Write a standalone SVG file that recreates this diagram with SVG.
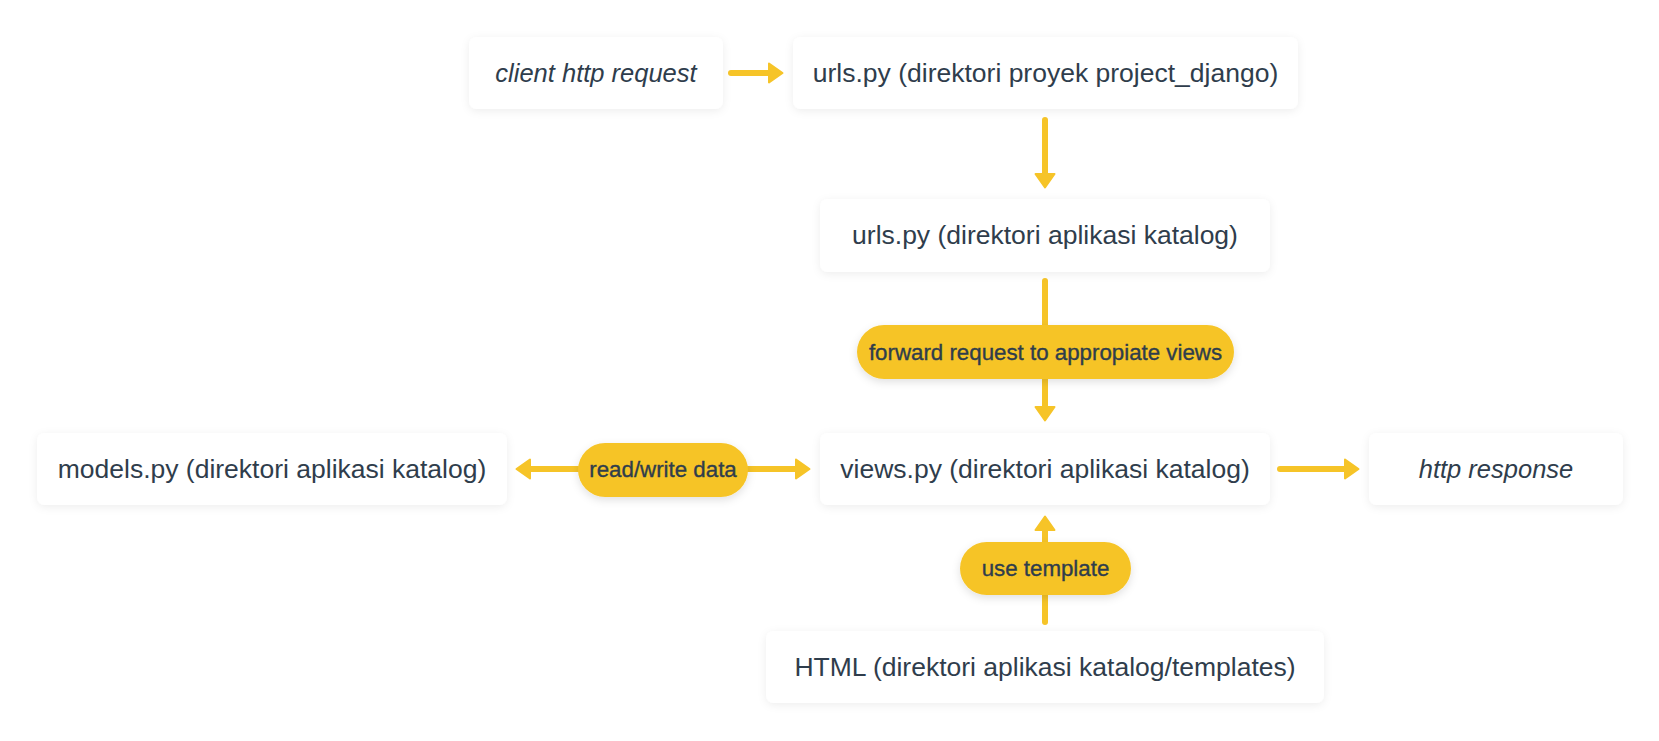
<svg xmlns="http://www.w3.org/2000/svg" width="1659" height="741" viewBox="0 0 1659 741">
  <style>
    .box { fill: #ffffff; filter: url(#boxShadow); }
    .pill { fill: #F6C428; filter: url(#pillShadow); }
    .txt { font-family: "Liberation Sans", Arial, sans-serif; font-size: 26.5px; fill: #2f3d4c; text-anchor: middle; }
    .it { font-style: italic; font-size: 25.5px; }
    .ptxt { font-family: "Liberation Sans", Arial, sans-serif; font-size: 22.3px; fill: #2f3d4c; text-anchor: middle; stroke: #2f3d4c; stroke-width: 0.35px; }
    .conn { stroke: #F6C428; stroke-width: 6; stroke-linecap: round; fill: none; }
  </style>
  <defs>
    <filter id="boxShadow" x="-10%" y="-30%" width="120%" height="160%">
      <feDropShadow dx="0" dy="2" stdDeviation="4" flood-color="#000000" flood-opacity="0.07"/>
    </filter>
    <filter id="pillShadow" x="-20%" y="-40%" width="140%" height="190%">
      <feDropShadow dx="0" dy="3" stdDeviation="4" flood-color="#000000" flood-opacity="0.12"/>
    </filter>
    <marker id="ah" markerUnits="userSpaceOnUse" viewBox="-2 -12 18 24" refX="0" refY="0" markerWidth="18" markerHeight="24" orient="auto-start-reverse">
      <path d="M0,-9.5 L13.5,0 L0,9.5 Z" fill="#F6C428" stroke="#F6C428" stroke-width="2" stroke-linejoin="round"/>
    </marker>
  </defs>
  <rect width="1659" height="741" fill="#ffffff"/>

  <g id="connectors">
    <line class="conn" x1="731" y1="73" x2="769" y2="73" marker-end="url(#ah)"/>
    <line class="conn" x1="1045" y1="120" x2="1045" y2="174" marker-end="url(#ah)"/>
    <line class="conn" x1="1045" y1="281" x2="1045" y2="407" marker-end="url(#ah)"/>
    <line class="conn" x1="530" y1="469" x2="796" y2="469" marker-start="url(#ah)" marker-end="url(#ah)"/>
    <line class="conn" x1="1280" y1="469" x2="1345" y2="469" marker-end="url(#ah)"/>
    <line class="conn" x1="1045" y1="622" x2="1045" y2="530" marker-end="url(#ah)"/>
  </g>

  <g id="label-forward">
    <rect class="pill" x="857" y="325" width="377" height="54" rx="27"/>
    <text class="ptxt" x="1045.5" y="360">forward request to appropiate views</text>
  </g>
  <g id="label-readwrite">
    <rect class="pill" x="578" y="443" width="170" height="54" rx="27"/>
    <text class="ptxt" x="663" y="477">read/write data</text>
  </g>
  <g id="label-template">
    <rect class="pill" x="960" y="542" width="171" height="53" rx="26.5"/>
    <text class="ptxt" x="1045.5" y="576">use template</text>
  </g>

  <g id="node-client">
    <rect class="box" x="469" y="37" width="254" height="72" rx="8"/>
    <text class="txt it" x="596" y="82">client http request</text>
  </g>
  <g id="node-urls-project">
    <rect class="box" x="793" y="37" width="505" height="72" rx="8"/>
    <text class="txt" x="1045.5" y="82">urls.py (direktori proyek project_django)</text>
  </g>
  <g id="node-urls-app">
    <rect class="box" x="820" y="199" width="450" height="73" rx="8"/>
    <text class="txt" x="1045" y="244">urls.py (direktori aplikasi katalog)</text>
  </g>
  <g id="node-models">
    <rect class="box" x="37" y="433" width="470" height="72" rx="8"/>
    <text class="txt" x="272" y="478">models.py (direktori aplikasi katalog)</text>
  </g>
  <g id="node-views">
    <rect class="box" x="820" y="433" width="450" height="72" rx="8"/>
    <text class="txt" x="1045" y="478">views.py (direktori aplikasi katalog)</text>
  </g>
  <g id="node-http-response">
    <rect class="box" x="1369" y="433" width="254" height="72" rx="8"/>
    <text class="txt it" x="1496" y="478">http response</text>
  </g>
  <g id="node-html">
    <rect class="box" x="766" y="631" width="558" height="72" rx="8"/>
    <text class="txt" x="1045" y="676">HTML (direktori aplikasi katalog/templates)</text>
  </g>
</svg>
